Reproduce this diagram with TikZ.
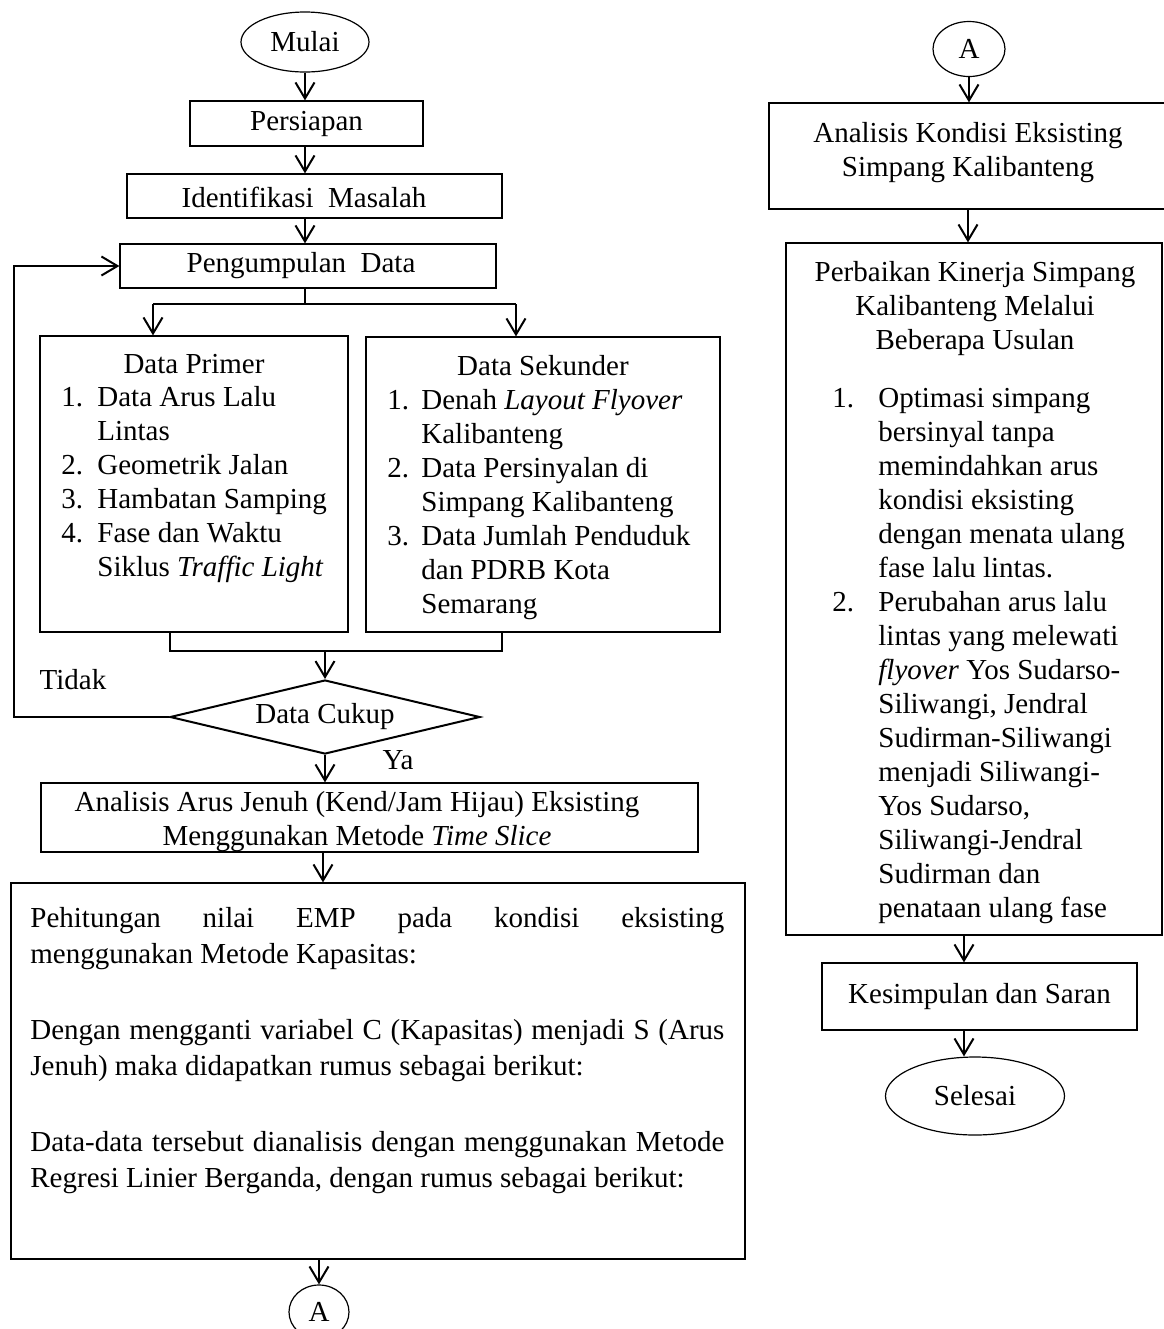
\documentclass[tikz,border=0pt]{standalone}
\usepackage{fontspec}
\setmainfont{Liberation Serif}
\usetikzlibrary{arrows.meta,shapes.geometric}
\begin{document}
\begin{tikzpicture}[x=0.5pt,y=-0.5pt,
  every node/.style={font=\fontsize{14.5}{17}\selectfont, inner sep=0pt},
  box/.style={draw, line width=0.6pt, rectangle},
  oval/.style={draw, line width=0.6pt, ellipse},
  line/.style={line width=1pt},
  arr/.style={line width=1pt, -{Straight Barb[length=8pt,width=9.5pt]}},
  txt/.style={align=left, anchor=north west},
  ctxt/.style={align=center, anchor=north}]
\useasboundingbox (0,0) rectangle (1163,1329);

% ---------- left column ----------
\node[oval, minimum width=64pt, minimum height=30pt] (mulai) at (305,42) {Mulai};
\node[box, minimum width=116.5pt, minimum height=22.5pt] (persiapan) at (306.5,123.5) {Persiapan};
\node[box, minimum width=187.5pt, minimum height=22pt] (identifikasi) at (314.5,196) {};
\node (identifikasitxt) at (304,197) {Identifikasi\ \ Masalah};
\node[box, minimum width=188pt, minimum height=22pt] (pengumpulan) at (308,266) {};
\node (pengumpulantxt) at (301,266) {Pengumpulan\ \ Data};

\node[box, minimum width=154pt, minimum height=148pt] (primer) at (194,484) {};
\node (primertitle) at (194,364) {Data Primer};
\node[txt] (primerlist) at (61,382) {\strut\makebox[18pt][l]{1.}Data Arus Lalu\\
 \hspace*{18pt}Lintas\\
 \makebox[18pt][l]{2.}Geometrik Jalan\\
 \makebox[18pt][l]{3.}Hambatan Samping\\
 \makebox[18pt][l]{4.}Fase dan Waktu\\
 \hspace*{18pt}Siklus \textit{Traffic Light}};

\node[box, minimum width=177pt, minimum height=147.5pt] (sekunder) at (543,484.5) {};
\node (sekundertitle) at (543,366) {Data Sekunder};
\node[txt] (sekunderlist) at (387,385) {\strut\makebox[17pt][l]{1.}Denah \textit{Layout Flyover}\\
 \hspace*{17pt}Kalibanteng\\
 \makebox[17pt][l]{2.}Data Persinyalan di\\
 \hspace*{17pt}Simpang Kalibanteng\\
 \makebox[17pt][l]{3.}Data Jumlah Penduduk\\
 \hspace*{17pt}dan PDRB Kota\\
 \hspace*{17pt}Semarang};

\node[diamond, draw, line width=1pt, aspect=4.2, minimum width=155pt, minimum height=37pt] (cukup) at (325,717) {Data Cukup};
\node (tidak) at (73,680) {Tidak};
\node (ya) at (398,760) {Ya};

\node[box, minimum width=328.5pt, minimum height=34.5pt] (arus) at (369.5,817.5) {};
\node[ctxt] (arustxt) at (357,787) {\strut Analisis Arus Jenuh (Kend/Jam Hijau) Eksisting\\ Menggunakan Metode \textit{Time Slice}};

\node[box, minimum width=367pt, minimum height=188pt] (emp) at (378,1071) {};
\node[anchor=north west, align=left, font=\fontsize{14.5}{18}\selectfont] (emptxt) at (30,902) {\strut\makebox[347pt][s]{Pehitungan nilai EMP pada kondisi eksisting}\\
 menggunakan Metode Kapasitas:\\[20pt]
 \makebox[347pt][s]{Dengan mengganti variabel C (Kapasitas) menjadi S (Arus}\\
 Jenuh) maka didapatkan rumus sebagai berikut:\\[20pt]
 \makebox[347pt][s]{Data-data tersebut dianalisis dengan menggunakan Metode}\\
 Regresi Linier Berganda, dengan rumus sebagai berikut:};

\node[oval, minimum width=30pt, minimum height=27pt] (abot) at (319,1312) {A};

% ---------- right column ----------
\node[oval, minimum width=36pt, minimum height=27.5pt] (atop) at (969,49) {A};
\node[box, minimum width=200.5pt, minimum height=53pt] (kondisi) at (969.5,156) {};
\node[ctxt] (kondisitxt) at (968,118) {\strut Analisis Kondisi Eksisting\\ Simpang Kalibanteng};

\node[box, minimum width=188pt, minimum height=346pt] (perbaikan) at (974,589) {};
\node[ctxt] (perbaikantitle) at (975,257) {\strut Perbaikan Kinerja Simpang\\ Kalibanteng Melalui\\ Beberapa Usulan};
\node[txt] (perbaikanlist) at (832,383) {\strut\makebox[23pt][l]{1.}Optimasi simpang\\
 \hspace*{23pt}bersinyal tanpa\\
 \hspace*{23pt}memindahkan arus\\
 \hspace*{23pt}kondisi eksisting\\
 \hspace*{23pt}dengan menata ulang\\
 \hspace*{23pt}fase lalu lintas.\\
 \makebox[23pt][l]{2.}Perubahan arus lalu\\
 \hspace*{23pt}lintas yang melewati\\
 \hspace*{23pt}\textit{flyover} Yos Sudarso-\\
 \hspace*{23pt}Siliwangi, Jendral\\
 \hspace*{23pt}Sudirman-Siliwangi\\
 \hspace*{23pt}menjadi Siliwangi-\\
 \hspace*{23pt}Yos Sudarso,\\
 \hspace*{23pt}Siliwangi-Jendral\\
 \hspace*{23pt}Sudirman dan\\
 \hspace*{23pt}penataan ulang fase};

\node[box, minimum width=157.5pt, minimum height=33.5pt] (kesimpulan) at (979.5,996.5) {Kesimpulan dan Saran};
\node[oval, minimum width=89.5pt, minimum height=39pt] (selesai) at (975,1096) {Selesai};

% ---------- connectors ----------
\coordinate (cl1) at (305,0);
\draw[arr] (mulai.south) -- (mulai.south |- persiapan.north);
\draw[arr] (persiapan.south -| cl1) -- (identifikasi.north -| cl1);
\draw[arr] (identifikasi.south -| cl1) -- (pengumpulan.north -| cl1);

\coordinate (fb) at (14,0);
\draw[arr] (cukup.west) -- (cukup.west -| fb) |- (pengumpulan.west);

\coordinate (split) at (305,304);
\coordinate (pl) at (153,304);
\coordinate (pr) at (516,304);
\draw[line] (pengumpulan.south -| split) -- (split);
\draw[line] (pl) -- (pr);
\draw[arr] (pl) -- (primer.north -| pl);
\draw[arr] (pr) -- (sekunder.north -| pr);

\coordinate (ml) at (170,651);
\coordinate (mr) at (502,651);
\coordinate (mc) at (325,651);
\draw[line] (primer.south -| ml) -- (ml) -- (mr) -- (sekunder.south -| mr);
\draw[arr] (mc) -- (cukup.north);
\draw[arr] (cukup.south) -- (arus.north -| cukup.south);
\coordinate (cl2) at (323,0);
\draw[arr] (arus.south -| cl2) -- (emp.north -| cl2);
\draw[arr] (emp.south -| abot.north) -- (abot.north);

\draw[arr] (atop.south) -- (kondisi.north -| atop.south);
\coordinate (cr1) at (968,0);
\draw[arr] (kondisi.south -| cr1) -- (perbaikan.north -| cr1);
\coordinate (cr2) at (964,0);
\draw[arr] (perbaikan.south -| cr2) -- (kesimpulan.north -| cr2);
\draw[arr] (kesimpulan.south -| cr2) -- (selesai.north -| cr2);
\end{tikzpicture}
\end{document}
